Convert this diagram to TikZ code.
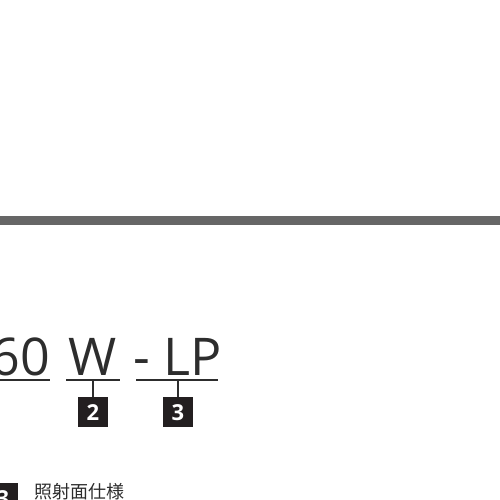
\documentclass[tikz,border=0pt]{standalone}
\usepackage{fontspec}
\setmainfont{Open Sans}
\newfontfamily\jpfont{Noto Sans CJK JP}
\usetikzlibrary{positioning}
\definecolor{bar}{RGB}{102,102,102}
\definecolor{ink}{RGB}{45,45,45}
\definecolor{tagbg}{RGB}{35,31,32}
\tikzset{
  code/.style={font=\fontsize{52}{52}\selectfont,text=ink,inner sep=0pt},
  uline/.style={draw=ink,line width=1.4pt},
  tick/.style={draw=ink,line width=1.4pt},
  tagbox/.style={fill=tagbg,text=white,minimum width=30pt,minimum height=30pt,
    inner sep=0pt,font=\fontsize{22}{22}\selectfont\bfseries},
}
\begin{document}
\begin{tikzpicture}[x=1pt,y=-1pt]
  \useasboundingbox (0,0) rectangle (500,500);
  % divider
  \fill[bar] (0,216) rectangle (500,225);
  % model code
  \node[code,anchor=base east] (num) at (50,375) {60};
  \node[code,anchor=base] (w) at (93,375) {W};
  \node[code,anchor=base] (dash) at (142,375) {-};
  \node[code,anchor=base] (lp) at (193,375) {LP};
  \draw[uline] (-5,380) -- (50,380);
  \draw[uline] (66,380) coordinate (wl) -- (120,380) coordinate (wr);
  \draw[uline] (136,380) coordinate (lpl) -- (218,380) coordinate (lpr);
  \coordinate (wm) at (93,380);
  \coordinate (lpm) at (178,380);
  \node[tagbox,anchor=north] (t2) at (93,397) {2};
  \node[tagbox,anchor=north] (t3) at (178,397) {3};
  \draw[tick] (wm) -- (t2.north);
  \draw[tick] (lpm) -- (t3.north);
  % legend
  \node[tagbox,anchor=north east] (k3) at (18,483) {3};
  \node[font=\jpfont\fontsize{18}{18}\selectfont,text=ink,anchor=base west,inner sep=0pt,right=16pt of k3.north east,yshift=0pt,anchor=north west] (lbl) {照射面仕様};
\end{tikzpicture}
\end{document}
